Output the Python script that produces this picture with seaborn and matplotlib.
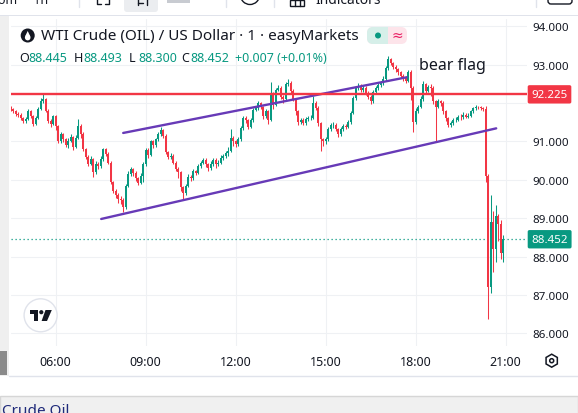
import numpy as np
import pandas as pd
import matplotlib
matplotlib.use("Agg")
import matplotlib.pyplot as plt
import matplotlib.dates as mdates
import matplotlib.transforms as mtransforms
from matplotlib.patches import Rectangle, Circle, Polygon, FancyBboxPatch, RegularPolygon
import seaborn as sns

# --- data (5 minute bars, WTI crude) ---
bar_start = "2024-04-12 04:30"
first_open = 91.90
closes = [91.84, 91.78, 91.72, 91.70, 91.60, 91.53, 91.58, 91.80, 91.65, 91.45,
          91.62, 91.85, 92.05, 92.10, 91.80, 91.52, 91.45, 91.65, 91.40, 91.00,
          91.18, 91.05, 90.90, 91.02, 91.12, 90.85, 91.10, 91.40, 91.20, 90.80,
          90.60, 90.42, 90.55, 90.20, 90.42, 90.35, 90.55, 90.80, 90.68, 90.45,
          89.95, 89.72, 89.60, 89.50, 89.47, 89.30, 89.85, 90.15, 90.28, 90.18,
          90.05, 89.92, 90.10, 90.40, 90.78, 90.65, 91.00, 90.90, 91.05, 91.18,
          91.30, 91.15, 90.72, 90.60, 90.62, 90.45, 90.28, 90.20, 89.80, 89.65,
          89.85, 90.08, 90.05, 90.22, 90.18, 90.35, 90.45, 90.52, 90.40, 90.30,
          90.40, 90.52, 90.40, 90.45, 90.58, 90.62, 90.70, 90.75, 91.10, 91.00,
          90.92, 91.05, 91.35, 91.62, 91.55, 91.38, 91.55, 91.82, 91.86, 92.00,
          91.89, 91.65, 91.78, 91.55, 92.25, 91.95, 92.35, 92.40, 92.15, 92.10,
          92.50, 92.52, 92.32, 92.10, 91.78, 91.50, 91.55, 91.48, 91.58, 91.60,
          91.62, 92.00, 91.88, 91.47, 91.05, 91.00, 91.05, 91.32, 91.42, 91.44,
          91.32, 91.18, 91.32, 91.40, 91.38, 91.50, 91.75, 92.12, 92.38, 92.45,
          92.33, 92.40, 92.26, 92.15, 92.05, 92.28, 92.38, 92.46, 92.52, 92.62,
          92.90, 93.15, 93.05, 92.95, 92.88, 92.80, 92.70, 92.66, 92.58, 92.82,
          92.40, 91.50, 91.80, 91.90, 92.10, 92.50, 92.32, 92.42, 92.40, 92.05,
          91.90, 92.05, 92.00, 91.78, 91.60, 91.42, 91.47, 91.55, 91.56, 91.64,
          91.63, 91.70, 91.64, 91.67, 91.78, 91.86, 91.90, 91.89, 91.87, 91.85,
          90.10, 87.20, 88.90, 88.20, 89.05, 88.85, 88.10, 88.452]
highs = [91.93, 91.88, 91.82, 91.76, 91.74, 91.64, 91.63, 91.85, 91.83, 91.68,
         91.67, 91.90, 92.12, 92.23, 92.14, 91.84, 91.58, 91.70, 91.68, 91.44,
         91.24, 91.22, 91.08, 91.08, 91.18, 91.15, 91.16, 91.58, 91.45, 91.24,
         90.84, 90.64, 90.62, 90.58, 90.50, 90.46, 90.62, 90.84, 90.84, 90.72,
         90.48, 89.98, 89.76, 89.65, 89.58, 89.52, 89.90, 90.22, 90.34, 90.32,
         90.22, 90.08, 90.18, 90.46, 90.82, 90.82, 91.04, 91.03, 91.10, 91.24,
         91.37, 91.33, 91.18, 90.76, 90.70, 90.66, 90.48, 90.34, 90.24, 89.84,
         89.90, 90.14, 90.12, 90.28, 90.26, 90.42, 90.50, 90.58, 90.56, 90.44,
         90.48, 90.58, 90.56, 90.52, 90.64, 90.68, 90.76, 90.85, 91.32, 91.14,
         91.04, 91.12, 91.40, 91.67, 91.66, 91.58, 91.60, 91.86, 91.92, 92.05,
         92.03, 91.92, 91.85, 91.82, 92.54, 92.28, 92.40, 92.47, 92.44, 92.20,
         92.55, 92.63, 92.56, 92.36, 92.14, 91.82, 91.62, 91.60, 91.64, 91.66,
         91.70, 92.19, 92.05, 91.92, 91.50, 91.10, 91.12, 91.38, 91.48, 91.50,
         91.47, 91.36, 91.38, 91.46, 91.45, 91.56, 91.80, 92.18, 92.43, 92.52,
         92.50, 92.46, 92.44, 92.30, 92.20, 92.33, 92.44, 92.52, 92.58, 92.70,
         92.96, 93.23, 93.18, 93.08, 92.98, 92.92, 92.84, 92.75, 92.70, 92.86,
         92.85, 92.44, 91.88, 91.96, 92.18, 92.58, 92.52, 92.48, 92.50, 92.44,
         92.08, 92.10, 92.08, 92.04, 91.82, 91.64, 91.54, 91.62, 91.64, 91.70,
         91.71, 91.76, 91.74, 91.73, 91.83, 91.90, 91.94, 91.93, 91.92, 91.90,
         91.92, 90.15, 89.60, 89.20, 89.35, 89.10, 88.95, 88.55]
lows = [91.79, 91.74, 91.66, 91.64, 91.55, 91.48, 91.49, 91.55, 91.60, 91.40,
        91.42, 91.58, 91.82, 92.00, 91.76, 91.48, 91.37, 91.42, 91.30, 90.96,
        90.95, 90.98, 90.86, 90.84, 90.98, 90.78, 90.82, 91.06, 91.10, 90.74,
        90.55, 90.36, 90.38, 90.07, 90.16, 90.28, 90.30, 90.50, 90.62, 90.40,
        89.90, 89.66, 89.52, 89.40, 89.36, 89.16, 89.25, 89.80, 90.10, 90.10,
        89.98, 89.86, 89.88, 89.94, 90.36, 90.58, 90.62, 90.84, 90.86, 91.02,
        91.14, 91.08, 90.66, 90.54, 90.55, 90.40, 90.24, 90.04, 89.72, 89.50,
        89.60, 89.82, 89.98, 90.00, 90.12, 90.14, 90.30, 90.40, 90.34, 90.24,
        90.26, 90.36, 90.32, 90.36, 90.42, 90.52, 90.58, 90.62, 90.72, 90.88,
        90.85, 90.88, 91.02, 91.30, 91.48, 91.32, 91.34, 91.50, 91.78, 91.82,
        91.84, 91.58, 91.62, 91.45, 91.52, 91.84, 91.92, 92.30, 92.10, 92.00,
        92.06, 92.44, 92.26, 92.04, 91.70, 91.44, 91.46, 91.42, 91.44, 91.52,
        91.56, 91.58, 91.82, 91.40, 90.76, 90.88, 90.92, 91.00, 91.28, 91.36,
        91.26, 91.12, 91.14, 91.28, 91.32, 91.34, 91.46, 91.72, 92.08, 92.34,
        92.28, 92.28, 92.20, 92.10, 91.97, 92.00, 92.24, 92.34, 92.42, 92.48,
        92.58, 92.86, 92.98, 92.88, 92.82, 92.72, 92.64, 92.58, 92.52, 92.54,
        92.08, 91.24, 91.46, 91.74, 91.86, 92.06, 92.26, 92.28, 92.18, 91.98,
        91.02, 91.86, 91.92, 91.72, 91.54, 91.38, 91.38, 91.44, 91.50, 91.52,
        91.57, 91.59, 91.60, 91.61, 91.64, 91.74, 91.83, 91.85, 91.83, 91.80,
        89.95, 86.38, 87.05, 87.60, 87.85, 88.40, 87.95, 87.85]

resistance = 92.225
last_price = 88.452
upper_times = ["2024-04-12 08:15", "2024-04-12 17:42"]
upper_prices = [91.22, 92.67]
lower_times = ["2024-04-12 07:31", "2024-04-12 20:41"]
lower_prices = [88.98, 91.34]

price_ticks = [86, 87, 88, 89, 90, 91, 92, 93, 94]
price_labels = ["86.000", "87.000", "88.000", "89.000", "90.000", "91.000", "", "93.000", "94.000"]
time_ticks = ["06:00", "09:00", "12:00", "15:00", "18:00", "21:00"]

title = "WTI Crude (OIL) / US Dollar \u00b7 1 \u00b7 easyMarkets"
ohlc_parts = [("O", "88.445"), ("H", "88.493"), ("L", "88.300"), ("C", "88.452")]
change_text = "+0.007 (+0.01%)"

UP = "#089981"
DOWN = "#f23645"
PURPLE = "#673ab7"
TXT = "#131722"

assert len(closes) == len(highs) == len(lows)

times = pd.date_range(bar_start, periods=len(closes), freq="5min")
x = mdates.date2num(times.to_pydatetime())
c = np.array(closes)
o = np.array([first_open] + closes[:-1])
hi = np.array(highs)
lo = np.array(lows)

sns.set_style("white")
plt.rcParams["font.family"] = ["Noto Sans", "DejaVu Sans"]

W, H = 578, 414
fig = plt.figure(figsize=(W / 100, H / 100), dpi=100)
fig.patch.set_facecolor("white")
ax = fig.add_axes([11 / W, 1 - 347 / H, 516 / W, 327 / H])

# channel lines
trend = pd.DataFrame({
    "time": pd.to_datetime(upper_times + lower_times),
    "price": upper_prices + lower_prices,
    "line": ["upper", "upper", "lower", "lower"],
})
sns.lineplot(data=trend, x="time", y="price", units="line", estimator=None,
             color=PURPLE, lw=1.7, ax=ax, zorder=4)

# candles
up = c >= o
cols = np.where(up, UP, DOWN)
ax.vlines(x, lo, hi, colors=cols, lw=0.75, zorder=3)
body = np.where(np.abs(c - o) < 0.015, np.where(up, 0.015, -0.015), c - o)
ax.bar(x, body, bottom=o, width=3.2 / 1440, color=cols, linewidth=0, zorder=3)

ax.axhline(resistance, color=DOWN, lw=1.7, zorder=5)
ax.axhline(last_price, color=UP, lw=0.9, ls=(0, (1, 2.2)), zorder=2)

ax.set_xlim(mdates.date2num(pd.Timestamp("2024-04-12 04:30:36")),
            mdates.date2num(pd.Timestamp("2024-04-12 21:42:36")))
ax.set_ylim(85.672, 94.1875)
ax.set_xticks(mdates.date2num(pd.to_datetime(["2024-04-12 " + t for t in time_ticks]).to_pydatetime()))
ax.set_xticklabels(time_ticks)
ax.set_yticks(price_ticks)
ax.set_yticklabels(price_labels)
ax.yaxis.tick_right()
ax.tick_params(axis="both", length=0, colors=TXT)
ax.tick_params(axis="y", pad=3.6, labelsize=8.3)
ax.tick_params(axis="x", pad=6.5, labelsize=9)
ax.set_xlabel("")
ax.set_ylabel("")
ax.grid(True, color="#eff1f4", lw=0.8)
ax.set_axisbelow(True)
for s in ax.spines.values():
    s.set_visible(False)

# price labels on the scale
blend = mtransforms.blended_transform_factory(ax.transAxes, ax.transData)
for lvl, col in [(resistance, DOWN), (last_price, UP)]:
    ax.text(1.0085, lvl, f"{lvl:.3f}", transform=blend, ha="left", va="center",
            fontsize=8.3, color="white", fontweight="bold", clip_on=False, zorder=6,
            bbox=dict(boxstyle="round,pad=0.32,rounding_size=0.15", fc=col, ec="none"))

# --- overlay for the surrounding chrome ---
ov = fig.add_axes([0, 0, 1, 1], zorder=10)
ov.set_xlim(0, W)
ov.set_ylim(H, 0)
ov.axis("off")
ov.patch.set_alpha(0)

# top toolbar
ov.add_patch(Rectangle((0, 15.5), W, 1, color="#e0e3eb", lw=0))
ov.add_patch(FancyBboxPatch((124, -6), 34, 19, boxstyle="round,pad=0,rounding_size=3",
                            fc="#ebedf0", ec="none"))
for sx in [79, 226, 274, 536]:
    ov.plot([sx, sx], [0, 8], color="#e0e3eb", lw=1)
ov.text(-2, 4, "om     1h", fontsize=9, color=TXT, va="baseline")
ov.text(315, 4, "Indicators", fontsize=10, color=TXT, va="baseline")
ov.plot([97, 97, 101], [0, 5, 5], color=TXT, lw=1)
ov.plot([109, 109, 105], [0, 5, 5], color=TXT, lw=1)
ov.plot([138, 138], [0, 6], color=TXT, lw=1)
ov.plot([138, 143], [4, 4], color=TXT, lw=1)
ov.plot([147, 147], [0, 6], color=TXT, lw=1)
ov.add_patch(Rectangle((167, 0), 23, 4, fc="#c8cbd1", ec="none", hatch="////"))
ov.add_patch(Circle((250, -4), 9.5, fc="none", ec=TXT, lw=1))
ov.add_patch(Rectangle((290, 1), 14, 6, fc="none", ec=TXT, lw=1))
ov.plot([295, 295], [1, 7], color=TXT, lw=1)
ov.plot([300, 300], [1, 7], color=TXT, lw=1)
ov.add_patch(FancyBboxPatch((548, -6), 24, 11, boxstyle="round,pad=0,rounding_size=3",
                            fc="none", ec=TXT, lw=1))

# left strip and bottom area
ov.add_patch(Rectangle((0, 17), 9, 360, color="#efefef", lw=0))
ov.add_patch(Rectangle((0, 352), 7, 24, color="#8a8a8a", lw=0))
ov.plot([9, W], [377, 377], color="#e0e3eb", lw=1)
ov.add_patch(Rectangle((0, 397), W, 20, fc="#f0f0f0", ec="#d6d6d6", lw=1))
ov.text(2, 404, "Crude Oil", fontsize=11, color="#1f2a7a", va="top")

# legend header
ov.add_patch(Circle((27.7, 36.5), 7, color="#131722", lw=0))
ov.add_patch(Circle((27.7, 38.6), 2.8, color="white", lw=0))
ov.add_patch(Polygon([(25.0, 37.6), (27.7, 32.0), (30.4, 37.6)], color="white", lw=0))
ov.text(41, 36.7, title, fontsize=11.0, color=TXT, va="center", ha="left")
ov.add_patch(FancyBboxPatch((367, 28), 40, 17, boxstyle="round,pad=0,rounding_size=6",
                            fc="#fde4ea", ec="none"))
ov.add_patch(FancyBboxPatch((367, 28), 21, 17, boxstyle="round,pad=0,rounding_size=6",
                            fc="#d6efe9", ec="none"))
ov.add_patch(Rectangle((380, 28), 8, 17, fc="#d6efe9", ec="none"))
ov.add_patch(Circle((378, 36.5), 3, color=UP, lw=0))
ov.text(397, 36.5, "\u2248", fontsize=10, color="#e91e63", ha="center", va="center")

ox = [19, 74, 128.5, 181]
for (lab, val), px in zip(ohlc_parts, ox):
    ov.text(px, 58.5, lab, fontsize=9, color=TXT, va="center")
    ov.text(px + 9.5, 58.5, val, fontsize=9, color=UP, va="center")
ov.text(235, 58.5, change_text, fontsize=9, color=UP, va="center")

ov.text(419, 66.5, "bear flag", fontsize=11.5, color=TXT, va="center", ha="left",
        fontweight="semibold")

# logo badge
ov.add_patch(Circle((40.6, 316.3), 16.5, fc="white", ec="#e0e3eb", lw=1))
ov.add_patch(Polygon([(29.5, 311), (38, 311), (38, 322), (34, 322), (34, 315.3), (29.5, 315.3)],
                     color="#131722", lw=0))
ov.add_patch(Circle((41.3, 313.2), 2.1, color="#131722", lw=0))
ov.add_patch(Polygon([(45.5, 311), (51.8, 311), (47, 322), (41.6, 322)], color="#131722", lw=0))

# settings icon
ov.add_patch(RegularPolygon((551.7, 361.7), 6, radius=6.5, orientation=0,
                            fc="none", ec=TXT, lw=1.1))
ov.add_patch(Circle((551.7, 361.7), 2, fc="none", ec=TXT, lw=1.1))

fig.savefig("out.png", dpi=100)
